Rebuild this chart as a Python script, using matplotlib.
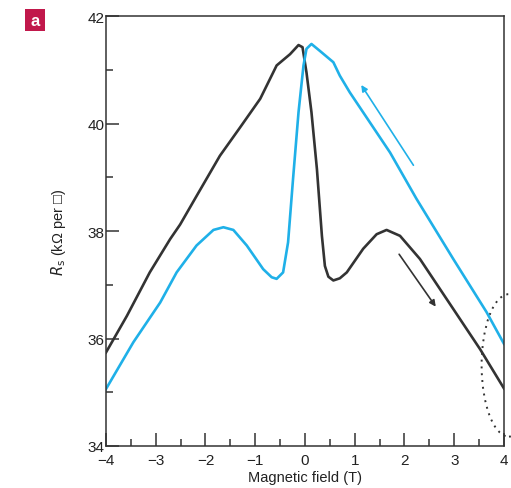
import matplotlib.pyplot as plt
from matplotlib.patches import Ellipse, FancyBboxPatch
from matplotlib.ticker import MultipleLocator

plt.rcParams['font.family'] = ['Liberation Sans', 'DejaVu Sans']

# sweep down (black) and sweep up (blue)
field_black = [-4.0, -3.58, -3.12, -2.71, -2.51, -2.18, -1.71, -1.31, -0.90, -0.57,
               -0.30, -0.20, -0.13, -0.05, 0.03, 0.13, 0.24, 0.34, 0.40, 0.47, 0.57,
               0.70, 0.84, 1.17, 1.44, 1.64, 1.91, 2.31, 2.98, 3.52, 4.0]
rs_black = [35.74, 36.42, 37.23, 37.85, 38.12, 38.65, 39.40, 39.92, 40.46, 41.08,
            41.29, 41.39, 41.46, 41.42, 40.95, 40.21, 39.15, 37.91, 37.35, 37.15, 37.08,
            37.12, 37.23, 37.67, 37.94, 38.02, 37.91, 37.48, 36.55, 35.80, 35.07]

field_blue = [-4.0, -3.45, -2.91, -2.58, -2.18, -1.84, -1.64, -1.44, -1.17, -0.84,
              -0.67, -0.57, -0.44, -0.34, -0.24, -0.13, -0.03, 0.03, 0.13, 0.30, 0.57,
              0.70, 0.90, 1.71, 2.24, 2.98, 3.65, 4.0]
rs_blue = [35.06, 35.93, 36.67, 37.23, 37.73, 38.02, 38.07, 38.02, 37.73, 37.29,
           37.14, 37.11, 37.23, 37.79, 38.97, 40.21, 41.08, 41.39, 41.48, 41.35, 41.14,
           40.89, 40.58, 39.46, 38.60, 37.48, 36.49, 35.90]

x_ticks = [-4, -3, -2, -1, 0, 1, 2, 3, 4]
x_ticklabels = ['\u22124', '\u22123', '\u22122', '\u22121', '0', '1', '2', '3', '4']

black = '#333333'
blue = '#1fb0e8'

fig = plt.figure(figsize=(5.11, 4.89), dpi=100)
ax = fig.add_axes([0.2074, 0.0859, 0.7789, 0.8793])

ax.plot(field_black, rs_black, color=black, lw=1.9, solid_joinstyle='round')
ax.plot(field_blue, rs_blue, color=blue, lw=1.9, solid_joinstyle='round')

# sweep direction arrows
ax.annotate('', xy=(1.10, 40.76), xytext=(2.21, 39.18),
            arrowprops=dict(arrowstyle='-|>', color=blue, lw=1.2, mutation_scale=9))
ax.annotate('', xy=(2.66, 36.55), xytext=(1.86, 37.61),
            arrowprops=dict(arrowstyle='-|>', color=black, lw=1.2, mutation_scale=9))

# dotted ellipse at the right edge
ax.add_patch(Ellipse((4.1, 35.5), 1.1, 2.65, fill=False, ls=(0, (1, 2.5)),
                     ec='#333333', lw=1.4, clip_on=False))

ax.set_xlim(-4, 4)
ax.set_ylim(34, 42)
ax.set_xticks(x_ticks)
ax.set_xticklabels(x_ticklabels)
ax.xaxis.set_minor_locator(MultipleLocator(0.5))
ax.yaxis.set_major_locator(MultipleLocator(2))
ax.yaxis.set_minor_locator(MultipleLocator(1))
ax.tick_params(which='both', direction='in', color=black, width=1.1,
               labelsize=11, labelcolor='#222222', pad=1)
ax.tick_params(axis='x', which='major', pad=5)
ax.tick_params(which='major', length=9.5)
ax.tick_params(which='minor', length=5)
for s in ax.spines.values():
    s.set_color(black)
    s.set_linewidth(1.1)

ax.set_xlabel('Magnetic field (T)', fontsize=10.5, color='#222222', labelpad=2)
ax.set_ylabel('$R_\\mathrm{s}$ (k\u03a9 per \u25a1)', fontsize=10.5, color='#222222',
              labelpad=14)

# panel letter
fig.patches.append(FancyBboxPatch((25 / 511, 1 - 32 / 489), 20 / 511, 22 / 489,
                                  boxstyle='square,pad=0', transform=fig.transFigure,
                                  fc='#c1184b', ec='none'))
fig.text(35 / 511, 1 - 21 / 489, 'a', color='white', fontsize=12, fontweight='bold',
         ha='center', va='center')

fig.savefig('out.png', dpi=100)
